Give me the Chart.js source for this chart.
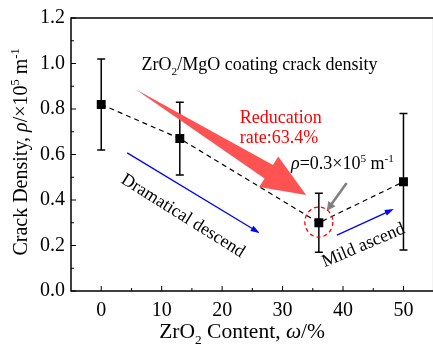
<!DOCTYPE html>
<html>
<head>
<meta charset="utf-8">
<script src="https://cdn.jsdelivr.net/npm/chart.js@4"></script>
<style>
  body { margin: 0; background: #fff; }
  #wrap { width: 433px; height: 345px; overflow: hidden; }
</style>
</head>
<body>
<div id="wrap"><canvas id="crackChart" width="440" height="345"></canvas></div>
<script>
// data
const contents = [0, 13, 36, 50];
const density = [0.82, 0.67, 0.30, 0.48];
const errLow = [0.62, 0.51, 0.17, 0.18];
const errHigh = [1.02, 0.83, 0.43, 0.78];
const xTickValues = [0, 10, 20, 30, 40, 50];
const yTickValues = [0, 0.2, 0.4, 0.6, 0.8, 1.0, 1.2];

const SERIF = '"Liberation Serif", "Times New Roman", serif';

// draw text made of parts, some of them sub/superscript or italic
function drawRich(ctx, parts, x, y, size, color, align) {
    const fontFor = (p) => {
        const s = p.s ? size * 0.62 : size;
        return (p.i ? 'italic ' : '') + s + 'px ' + SERIF;
    };
    let total = 0;
    parts.forEach(p => { ctx.font = fontFor(p); total += ctx.measureText(p.t).width; });
    let cx = align === 'center' ? x - total / 2 : x;
    ctx.fillStyle = color;
    ctx.textAlign = 'left';
    ctx.textBaseline = 'alphabetic';
    parts.forEach(p => {
        ctx.font = fontFor(p);
        let dy = 0;
        if (p.s === 'sub') dy = size * 0.28;
        if (p.s === 'sup') dy = -size * 0.42;
        ctx.fillText(p.t, cx, y + dy);
        cx += ctx.measureText(p.t).width;
    });
}

function arrowLine(ctx, x1, y1, x2, y2, color, width, headLen, headW) {
    const a = Math.atan2(y2 - y1, x2 - x1);
    ctx.save();
    ctx.strokeStyle = color;
    ctx.fillStyle = color;
    ctx.lineWidth = width;
    ctx.beginPath();
    ctx.moveTo(x1, y1);
    ctx.lineTo(x2 - Math.cos(a) * headLen * 0.8, y2 - Math.sin(a) * headLen * 0.8);
    ctx.stroke();
    ctx.beginPath();
    ctx.moveTo(x2, y2);
    ctx.lineTo(x2 - Math.cos(a) * headLen - Math.sin(a) * headW, y2 - Math.sin(a) * headLen + Math.cos(a) * headW);
    ctx.lineTo(x2 - Math.cos(a) * headLen + Math.sin(a) * headW, y2 - Math.sin(a) * headLen - Math.cos(a) * headW);
    ctx.closePath();
    ctx.fill();
    ctx.restore();
}

const errorBars = {
    id: 'errorBars',
    beforeDatasetsDraw(chart) {
        const ctx = chart.ctx, xs = chart.scales.x, ys = chart.scales.y;
        ctx.save();
        ctx.strokeStyle = '#000';
        ctx.lineWidth = 1.5;
        contents.forEach((c, i) => {
            const px = xs.getPixelForValue(c);
            const lo = ys.getPixelForValue(errLow[i]);
            const hi = ys.getPixelForValue(errHigh[i]);
            ctx.beginPath();
            ctx.moveTo(px, lo); ctx.lineTo(px, hi);
            ctx.moveTo(px - 4, lo); ctx.lineTo(px + 4, lo);
            ctx.moveTo(px - 4, hi); ctx.lineTo(px + 4, hi);
            ctx.stroke();
        });
        ctx.restore();
    }
};

const decorations = {
    id: 'decorations',
    beforeDatasetsDraw(chart) {
        const ctx = chart.ctx, xs = chart.scales.x, ys = chart.scales.y;
        const P = (x, y) => [xs.getPixelForValue(x), ys.getPixelForValue(y)];

        // big red arrow
        const [tx, ty] = P(5.6, 0.888);
        const [hx, hy] = P(33.9, 0.422);
        const L = Math.hypot(hx - tx, hy - ty);
        const ux = (hx - tx) / L, uy = (hy - ty) / L;
        const nx = -uy, ny = ux;
        const headLen = 44, shaftW = 8, headW = 18;
        const bx = hx - ux * headLen, by = hy - uy * headLen;
        ctx.save();
        ctx.fillStyle = '#ff5252';
        ctx.beginPath();
        ctx.moveTo(tx, ty);
        ctx.lineTo(bx + nx * shaftW, by + ny * shaftW);
        ctx.lineTo(bx + nx * headW, by + ny * headW);
        ctx.lineTo(hx, hy);
        ctx.lineTo(bx - nx * headW, by - ny * headW);
        ctx.lineTo(bx - nx * shaftW, by - ny * shaftW);
        ctx.closePath();
        ctx.fill();
        ctx.restore();
    },
    afterDatasetsDraw(chart) {
        const ctx = chart.ctx, xs = chart.scales.x, ys = chart.scales.y;
        const P = (x, y) => [xs.getPixelForValue(x), ys.getPixelForValue(y)];
        const a = chart.chartArea;

        // frame (right edge sits just outside the picture)
        ctx.save();
        ctx.strokeStyle = '#000';
        ctx.lineWidth = 1.5;
        ctx.strokeRect(a.left, a.top, a.right - a.left, a.bottom - a.top);

        // inward ticks
        ctx.lineWidth = 1;
        ctx.beginPath();
        for (let v = 0; v <= 55; v += 5) {
            const px = xs.getPixelForValue(v);
            const len = v % 10 === 0 ? 5 : 3;
            ctx.moveTo(px, a.bottom); ctx.lineTo(px, a.bottom - len);
        }
        for (let k = 0; k <= 12; k++) {
            const py = ys.getPixelForValue(k / 10);
            const len = k % 2 === 0 ? 5 : 3;
            ctx.moveTo(a.left, py); ctx.lineTo(a.left + len, py);
        }
        ctx.stroke();
        ctx.restore();

        // blue trend arrows
        let p1 = P(4.3, 0.607), p2 = P(26.2, 0.255);
        arrowLine(ctx, p1[0], p1[1], p2[0], p2[1], '#0000ff', 1.3, 9, 3);
        p1 = P(39.0, 0.246); p2 = P(48.4, 0.360);
        arrowLine(ctx, p1[0], p1[1], p2[0], p2[1], '#0000ff', 1.3, 9, 3);

        // gray pointer
        p1 = P(40.6, 0.475); p2 = P(37.3, 0.352);
        arrowLine(ctx, p1[0], p1[1], p2[0], p2[1], '#808080', 2.5, 9, 4.5);

        // red dashed circle round the minimum
        const [cx, cy] = P(36.0, 0.303);
        ctx.save();
        ctx.strokeStyle = '#ff0000';
        ctx.lineWidth = 1.3;
        ctx.setLineDash([4, 3]);
        ctx.beginPath();
        ctx.ellipse(cx, cy, 14, 15, 0, 0, Math.PI * 2);
        ctx.stroke();
        ctx.restore();

        // texts
        let t = P(26.2, 1.0);
        drawRich(ctx, [{t: 'ZrO'}, {t: '2', s: 'sub'}, {t: '/MgO coating crack density'}], t[0], t[1] + 6, 18, '#000', 'center');

        t = P(22.9, 0.765);
        drawRich(ctx, [{t: 'Reducation'}], t[0], t[1] + 6, 18, '#ff0000', 'left');
        t = P(22.9, 0.677);
        drawRich(ctx, [{t: 'rate:63.4%'}], t[0], t[1] + 6, 18, '#ff0000', 'left');

        t = P(31.4, 0.562);
        drawRich(ctx, [{t: 'ρ', i: true}, {t: '=0.3×10'}, {t: '5', s: 'sup'}, {t: ' m'}, {t: '-1', s: 'sup'}], t[0], t[1] + 6, 18, '#000', 'left');

        const rotText = (txt, x, y, ang) => {
            const [px, py] = P(x, y);
            ctx.save();
            ctx.translate(px, py);
            ctx.rotate(ang * Math.PI / 180);
            ctx.font = '18px ' + SERIF;
            ctx.fillStyle = '#000';
            ctx.textAlign = 'center';
            ctx.textBaseline = 'middle';
            ctx.fillText(txt, 0, 0);
            ctx.restore();
        };
        rotText('Dramatical descend', 13.5, 0.33, 32);
        rotText('Mild ascend', 43.4, 0.20, -23);

        // axis titles
        drawRich(ctx, [{t: 'ZrO'}, {t: '2', s: 'sub'}, {t: ' Content, '}, {t: 'ω', i: true}, {t: '/%'}],
            xs.getPixelForValue(23.3), 338, 21.5, '#000', 'center');
        ctx.save();
        ctx.translate(27, 152);
        ctx.rotate(-Math.PI / 2);
        drawRich(ctx, [{t: 'Crack Density, '}, {t: 'ρ', i: true}, {t: '/×10'}, {t: '5', s: 'sup'}, {t: ' m'}, {t: '-1', s: 'sup'}],
            0, 0, 20, '#000', 'center');
        ctx.restore();
    }
};

const ctx = document.getElementById('crackChart');
new Chart(ctx, {
    type: 'line',
    data: {
        datasets: [{
            data: contents.map((c, i) => ({x: c, y: density[i]})),
            borderColor: '#000',
            borderWidth: 1.2,
            borderDash: [5, 4],
            pointStyle: 'rect',
            pointRadius: 6.3,
            pointBackgroundColor: '#000',
            pointBorderWidth: 0,
            tension: 0
        }]
    },
    options: {
        responsive: false,
        animation: false,
        devicePixelRatio: 1,
        layout: { padding: { top: 18, right: 5, left: 0, bottom: 0 } },
        plugins: { legend: { display: false }, tooltip: { enabled: false } },
        scales: {
            x: {
                type: 'linear',
                min: -5,
                max: 55,
                afterBuildTicks: s => { s.ticks = xTickValues.map(v => ({value: v})); },
                afterFit: s => { s.height = 54; },
                grid: { display: false, drawTicks: false },
                border: { display: false },
                ticks: { padding: 8, color: '#000', font: { family: SERIF, size: 20 } }
            },
            y: {
                min: 0,
                max: 1.2,
                afterBuildTicks: s => { s.ticks = yTickValues.map(v => ({value: v})); },
                afterFit: s => { s.width = 71; },
                grid: { display: false, drawTicks: false },
                border: { display: false },
                ticks: { padding: 6, color: '#000', font: { family: SERIF, size: 20 },
                    callback: v => v.toFixed(1) }
            }
        }
    },
    plugins: [errorBars, decorations]
});
</script>
</body>
</html>
